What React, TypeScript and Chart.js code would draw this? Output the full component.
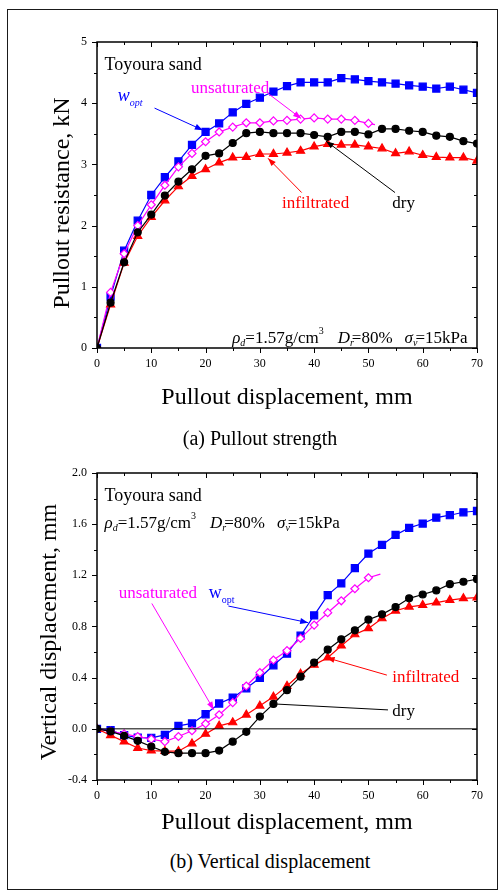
import React, { useEffect, useRef } from 'react';
import { Chart, registerables } from 'chart.js';

Chart.register(...registerables);

const FONT = "'Liberation Serif', 'Times New Roman', serif";

// ---------- data ----------
const displacementMm = [0, 2.5, 5, 7.5, 10, 12.5, 15, 17.5, 20, 22.5, 25, 27.5, 30, 32.5, 35, 37.5, 40, 42.5, 45, 47.5, 50, 52.5, 55, 57.5, 60, 62.5, 65, 67.5, 70];

// (a) Pullout resistance, kN
const pullWopt = [0, 0.84, 1.59, 2.08, 2.5, 2.79, 3.05, 3.32, 3.53, 3.67, 3.85, 3.99, 4.09, 4.19, 4.28, 4.34, 4.34, 4.34, 4.41, 4.39, 4.36, 4.34, 4.32, 4.29, 4.27, 4.24, 4.27, 4.22, 4.17];
const pullUnsatX = [0, 2.5, 5, 7.5, 10, 12.5, 15, 17.5, 20, 22.5, 25, 27.5, 30, 32.5, 35, 37.5, 40, 42.5, 45, 47.5, 50, 51.2];
const pullUnsat = [0, 0.91, 1.54, 2.0, 2.34, 2.66, 2.96, 3.18, 3.37, 3.53, 3.61, 3.68, 3.68, 3.71, 3.72, 3.74, 3.76, 3.74, 3.74, 3.72, 3.67, 3.65];
const pullDry = [0, 0.74, 1.4, 1.89, 2.18, 2.49, 2.72, 2.92, 3.14, 3.18, 3.35, 3.51, 3.53, 3.51, 3.51, 3.51, 3.48, 3.45, 3.53, 3.53, 3.49, 3.58, 3.58, 3.55, 3.53, 3.47, 3.45, 3.38, 3.34];
const pullInfil = [0, 0.71, 1.39, 1.83, 2.14, 2.41, 2.64, 2.81, 2.92, 3.03, 3.11, 3.12, 3.17, 3.17, 3.19, 3.22, 3.29, 3.33, 3.32, 3.32, 3.29, 3.26, 3.18, 3.21, 3.15, 3.12, 3.11, 3.11, 3.06];

// (b) Vertical displacement, mm
const vertWopt = [0, -0.01, -0.05, -0.068, -0.07, -0.047, 0.023, 0.042, 0.114, 0.198, 0.244, 0.317, 0.398, 0.497, 0.588, 0.728, 0.887, 1.045, 1.137, 1.256, 1.37, 1.438, 1.516, 1.571, 1.605, 1.651, 1.67, 1.693, 1.703];
const vertUnsatX = [0, 2.5, 5, 7.5, 10, 12.5, 15, 17.5, 20, 22.5, 25, 27.5, 30, 32.5, 35, 37.5, 40, 42.5, 45, 47.5, 50, 52.2];
const vertUnsat = [0, -0.02, -0.04, -0.06, -0.08, -0.1, -0.06, -0.015, 0.04, 0.11, 0.205, 0.335, 0.44, 0.538, 0.611, 0.707, 0.811, 0.908, 1.001, 1.095, 1.181, 1.21];
const vertDry = [0, -0.02, -0.055, -0.094, -0.138, -0.18, -0.19, -0.19, -0.19, -0.17, -0.1, -0.023, 0.096, 0.195, 0.302, 0.408, 0.518, 0.619, 0.7, 0.77, 0.853, 0.895, 0.952, 1.02, 1.05, 1.082, 1.131, 1.15, 1.17];
const vertInfil = [0, -0.05, -0.1, -0.15, -0.17, -0.175, -0.175, -0.115, -0.04, 0.023, 0.05, 0.11, 0.18, 0.25, 0.335, 0.43, 0.5, 0.556, 0.65, 0.738, 0.785, 0.863, 0.923, 0.954, 0.967, 0.986, 1.006, 1.02, 1.025];

const BLUE = '#0000ff';
const MAGENTA = '#ff00ff';
const RED = '#ff0000';
const BLACK = '#000000';

type Part = { t: string; size?: number; italic?: boolean; dy?: number; dx?: number };
type Note = { x: number; y: number; color: string; parts: Part[] };
type Arrow = { from: [number, number]; to: [number, number]; color: string; head?: boolean };

function series(label: string, xs: number[], ys: number[], color: string, style: string, radius: number, filled: boolean) {
  return {
    label,
    data: xs.map((x, i) => ({ x, y: ys[i] })),
    borderColor: color,
    borderWidth: 1.2,
    pointStyle: style,
    pointRadius: (c: any) => (xs[c.dataIndex] % 2.5 === 0 ? radius : 0),
    pointBackgroundColor: filled ? color : '#ffffff',
    pointBorderColor: color,
    pointBorderWidth: 1.2,
    tension: 0,
    fill: false,
  };
}

function paramParts(): Part[] {
  return [
    { t: 'ρ', italic: true, size: 17 },
    { t: 'd', italic: true, size: 10, dy: 3 },
    { t: '=1.57g/cm', size: 17 },
    { t: '3', size: 10, dy: -9 },
    { t: 'D', italic: true, size: 17, dx: 14 },
    { t: 'r', italic: true, size: 10, dy: 3 },
    { t: '=80%', size: 17, dx: -2 },
    { t: 'σ', italic: true, size: 17, dx: 12 },
    { t: 'v', italic: true, size: 10, dy: 3 },
    { t: '=15kPa', size: 17, dx: -2 },
  ];
}

type Panel = {
  datasets: any[];
  yMin: number;
  yMax: number;
  yStep: number;
  yMinor: number;
  yFmt: (v: number) => string;
  padTop: number;
  xHeight: number;
  xTitlePad: number;
  yTitle: string;
  yTitleX: number;
  yTitleY: number;
  zeroLine: boolean;
  notes: Note[];
  arrows: Arrow[];
};

function drawArrow(ctx: CanvasRenderingContext2D, x1: number, y1: number, x2: number, y2: number, color: string, head: boolean) {
  ctx.strokeStyle = color;
  ctx.fillStyle = color;
  ctx.lineWidth = 1;
  ctx.beginPath();
  ctx.moveTo(x1, y1);
  ctx.lineTo(x2, y2);
  ctx.stroke();
  if (!head) return;
  const ang = Math.atan2(y2 - y1, x2 - x1);
  const L = 8;
  const W = 3;
  const bx = x2 - L * Math.cos(ang);
  const by = y2 - L * Math.sin(ang);
  ctx.beginPath();
  ctx.moveTo(x2, y2);
  ctx.lineTo(bx + W * Math.sin(ang), by - W * Math.cos(ang));
  ctx.lineTo(bx - W * Math.sin(ang), by + W * Math.cos(ang));
  ctx.closePath();
  ctx.fill();
}

function makePlugins(p: Panel) {
  const frame = {
    id: 'frameTicks',
    afterDatasetsDraw(chart: any) {
      const { ctx, chartArea: a, scales } = chart;
      const xs = scales.x;
      const ys = scales.y;
      ctx.save();
      ctx.strokeStyle = '#000';
      ctx.lineWidth = 1;
      const seg = (x1: number, y1: number, x2: number, y2: number) => {
        ctx.beginPath();
        ctx.moveTo(x1, y1);
        ctx.lineTo(x2, y2);
        ctx.stroke();
      };
      if (p.zeroLine) {
        const py = ys.getPixelForValue(0);
        seg(a.left, py, a.right, py);
      }
      // x ticks: major 10, minor 5
      const nx = Math.round(70 / 5);
      for (let i = 0; i <= nx; i++) {
        const px = Math.round(xs.getPixelForValue(i * 5)) + 0.5;
        const len = i % 2 === 0 ? 5 : 3;
        seg(px, a.bottom, px, a.bottom + len);
        seg(px, a.top, px, a.top + len);
      }
      const ny = Math.round((p.yMax - p.yMin) / p.yMinor);
      const ratio = Math.round(p.yStep / p.yMinor);
      for (let i = 0; i <= ny; i++) {
        const py = Math.round(ys.getPixelForValue(p.yMin + i * p.yMinor)) + 0.5;
        const len = i % ratio === 0 ? 5 : 3;
        seg(a.left - len, py, a.left, py);
        seg(a.right - len, py, a.right, py);
      }
      ctx.lineWidth = 1.5;
      ctx.strokeRect(a.left, a.top, a.right - a.left, a.bottom - a.top);
      ctx.restore();
    },
  };
  const notes = {
    id: 'notes',
    afterDatasetsDraw(chart: any) {
      const { ctx, scales } = chart;
      const xs = scales.x;
      const ys = scales.y;
      ctx.save();
      for (const ar of p.arrows) {
        drawArrow(
          ctx,
          xs.getPixelForValue(ar.from[0]),
          ys.getPixelForValue(ar.from[1]),
          xs.getPixelForValue(ar.to[0]),
          ys.getPixelForValue(ar.to[1]),
          ar.color,
          ar.head !== false
        );
      }
      ctx.textBaseline = 'alphabetic';
      ctx.textAlign = 'left';
      for (const n of p.notes) {
        let px = xs.getPixelForValue(n.x);
        const py = ys.getPixelForValue(n.y);
        ctx.fillStyle = n.color;
        for (const part of n.parts) {
          ctx.font = `${part.italic ? 'italic ' : ''}${part.size || 17}px ${FONT}`;
          px += part.dx || 0;
          ctx.fillText(part.t, px, py + (part.dy || 0));
          px += ctx.measureText(part.t).width;
        }
      }
      // rotated y-axis title
      ctx.fillStyle = '#000';
      ctx.font = `24px ${FONT}`;
      ctx.textAlign = 'center';
      ctx.textBaseline = 'middle';
      ctx.translate(p.yTitleX, p.yTitleY);
      ctx.rotate(-Math.PI / 2);
      ctx.fillText(p.yTitle, 0, 0);
      ctx.restore();
    },
  };
  return [frame, notes];
}

function buildConfig(p: Panel): any {
  return {
    type: 'line',
    data: { datasets: p.datasets },
    options: {
      animation: false,
      responsive: false,
      maintainAspectRatio: false,
      events: [],
      layout: { padding: { top: p.padTop, right: 24, left: 0, bottom: 0 } },
      plugins: { legend: { display: false }, tooltip: { enabled: false } },
      scales: {
        x: {
          type: 'linear',
          min: 0,
          max: 70,
          position: 'bottom',
          grid: { display: false, drawTicks: false },
          border: { display: false },
          ticks: { stepSize: 10, color: '#000', font: { family: FONT, size: 12 }, padding: 9, maxRotation: 0, autoSkip: false },
          title: {
            display: true,
            text: 'Pullout displacement, mm',
            color: '#000',
            font: { family: FONT, size: 24 },
            padding: { top: 0, bottom: p.xTitlePad },
          },
          afterFit: (s: any) => {
            s.height = p.xHeight;
          },
        },
        y: {
          type: 'linear',
          min: p.yMin,
          max: p.yMax,
          grid: { display: false, drawTicks: false },
          border: { display: false },
          ticks: {
            stepSize: p.yStep,
            color: '#000',
            font: { family: FONT, size: 12 },
            padding: 10,
            callback: (v: any) => p.yFmt(Number(v)),
          },
          afterFit: (s: any) => {
            s.width = 97;
          },
        },
      },
    },
    plugins: makePlugins(p),
  };
}

const topPanel: Panel = {
  datasets: [
    series('dry', displacementMm, pullDry, BLACK, 'circle', 3.5, true),
    series('infiltrated', displacementMm, pullInfil, RED, 'triangle', 4.6, true),
    series('unsaturated', pullUnsatX, pullUnsat, MAGENTA, 'rectRot', 4, false),
    series('w_opt', displacementMm, pullWopt, BLUE, 'rect', 5, true),
  ],
  yMin: 0,
  yMax: 5,
  yStep: 1,
  yMinor: 0.5,
  yFmt: (v) => String(Math.round(v)),
  padTop: 42,
  xHeight: 102,
  xTitlePad: 37.6,
  yTitle: 'Pullout resistance, kN',
  yTitleX: 63,
  yTitleY: 203,
  zeroLine: false,
  notes: [
    { x: 1.4, y: 4.55, color: BLACK, parts: [{ t: 'Toyoura sand', size: 18 }] },
    { x: 3.8, y: 4.03, color: BLUE, parts: [{ t: 'w', italic: true, size: 18 }, { t: 'opt', italic: true, size: 10, dy: 5 }] },
    { x: 17.3, y: 4.16, color: MAGENTA, parts: [{ t: 'unsaturated', size: 17 }] },
    { x: 34.1, y: 2.28, color: RED, parts: [{ t: 'infiltrated', size: 17 }] },
    { x: 54.4, y: 2.28, color: BLACK, parts: [{ t: 'dry', size: 17 }] },
    { x: 24.9, y: 0.08, color: BLACK, parts: paramParts() },
  ],
  arrows: [
    { from: [10.6, 3.92], to: [19.5, 3.56], color: BLUE },
    { from: [31.5, 4.16], to: [37.6, 3.75], color: MAGENTA },
    { from: [37.7, 2.54], to: [31.5, 3.1], color: RED },
    { from: [54.9, 2.54], to: [42.2, 3.38], color: BLACK },
  ],
};

const bottomPanel: Panel = {
  datasets: [
    series('dry', displacementMm, vertDry, BLACK, 'circle', 3.5, true),
    series('infiltrated', displacementMm, vertInfil, RED, 'triangle', 4.6, true),
    series('unsaturated', vertUnsatX, vertUnsat, MAGENTA, 'rectRot', 4, false),
    series('w_opt', displacementMm, vertWopt, BLUE, 'rect', 5, true),
  ],
  yMin: -0.4,
  yMax: 2.0,
  yStep: 0.4,
  yMinor: 0.2,
  yFmt: (v) => (Math.abs(v) < 1e-9 ? 0 : v).toFixed(1),
  padTop: 23,
  xHeight: 70,
  xTitlePad: 12.6,
  yTitle: 'Vertical displacement, mm',
  yTitleX: 50,
  yTitleY: 182,
  zeroLine: true,
  notes: [
    { x: 1.4, y: 1.78, color: BLACK, parts: [{ t: 'Toyoura sand', size: 18 }] },
    { x: 1.4, y: 1.57, color: BLACK, parts: paramParts() },
    { x: 4.0, y: 1.02, color: MAGENTA, parts: [{ t: 'unsaturated', size: 17 }] },
    { x: 20.6, y: 1.02, color: BLUE, parts: [{ t: 'w', size: 18 }, { t: 'opt', size: 10, dy: 5 }] },
    { x: 54.4, y: 0.367, color: RED, parts: [{ t: 'infiltrated', size: 17 }] },
    { x: 54.4, y: 0.1, color: BLACK, parts: [{ t: 'dry', size: 17 }] },
  ],
  arrows: [
    { from: [24.2, 0.96], to: [38.9, 0.83], color: BLUE },
    { from: [10.1, 0.98], to: [21.5, 0.15], color: MAGENTA },
    { from: [53.4, 0.42], to: [42.3, 0.556], color: RED },
    { from: [53.6, 0.148], to: [32.4, 0.195], color: BLACK, head: false },
  ],
};

function ChartCanvas({ panel, top, height }: { panel: Panel; top: number; height: number }) {
  const ref = useRef<HTMLCanvasElement>(null);
  useEffect(() => {
    if (!ref.current) return;
    const chart = new Chart(ref.current, buildConfig(panel));
    return () => chart.destroy();
  }, [panel]);
  return (
    <canvas
      ref={ref}
      width={501}
      height={height}
      style={{ position: 'absolute', left: 0, top, width: 501, height, display: 'block' }}
    />
  );
}

function Caption({ text, cx, cy }: { text: string; cx: number; cy: number }) {
  return (
    <div
      style={{
        position: 'absolute',
        left: cx,
        top: cy,
        transform: 'translate(-50%, -50%)',
        whiteSpace: 'nowrap',
        font: `20px ${FONT}`,
        lineHeight: 1,
        color: '#000',
      }}
    >
      {text}
    </div>
  );
}

export default function App() {
  return (
    <div style={{ position: 'absolute', left: 0, top: 0, width: 501, height: 892, background: '#fff', overflow: 'hidden' }}>
      <div
        style={{
          position: 'absolute',
          left: 7,
          top: 9,
          width: 491,
          height: 881,
          border: '1.5px solid #1a1a1a',
          boxSizing: 'border-box',
        }}
      />
      <ChartCanvas panel={topPanel} top={0} height={450} />
      <ChartCanvas panel={bottomPanel} top={450} height={400} />
      <Caption text="(a) Pullout strength" cx={260} cy={438} />
      <Caption text="(b) Vertical displacement" cx={270} cy={861} />
    </div>
  );
}
